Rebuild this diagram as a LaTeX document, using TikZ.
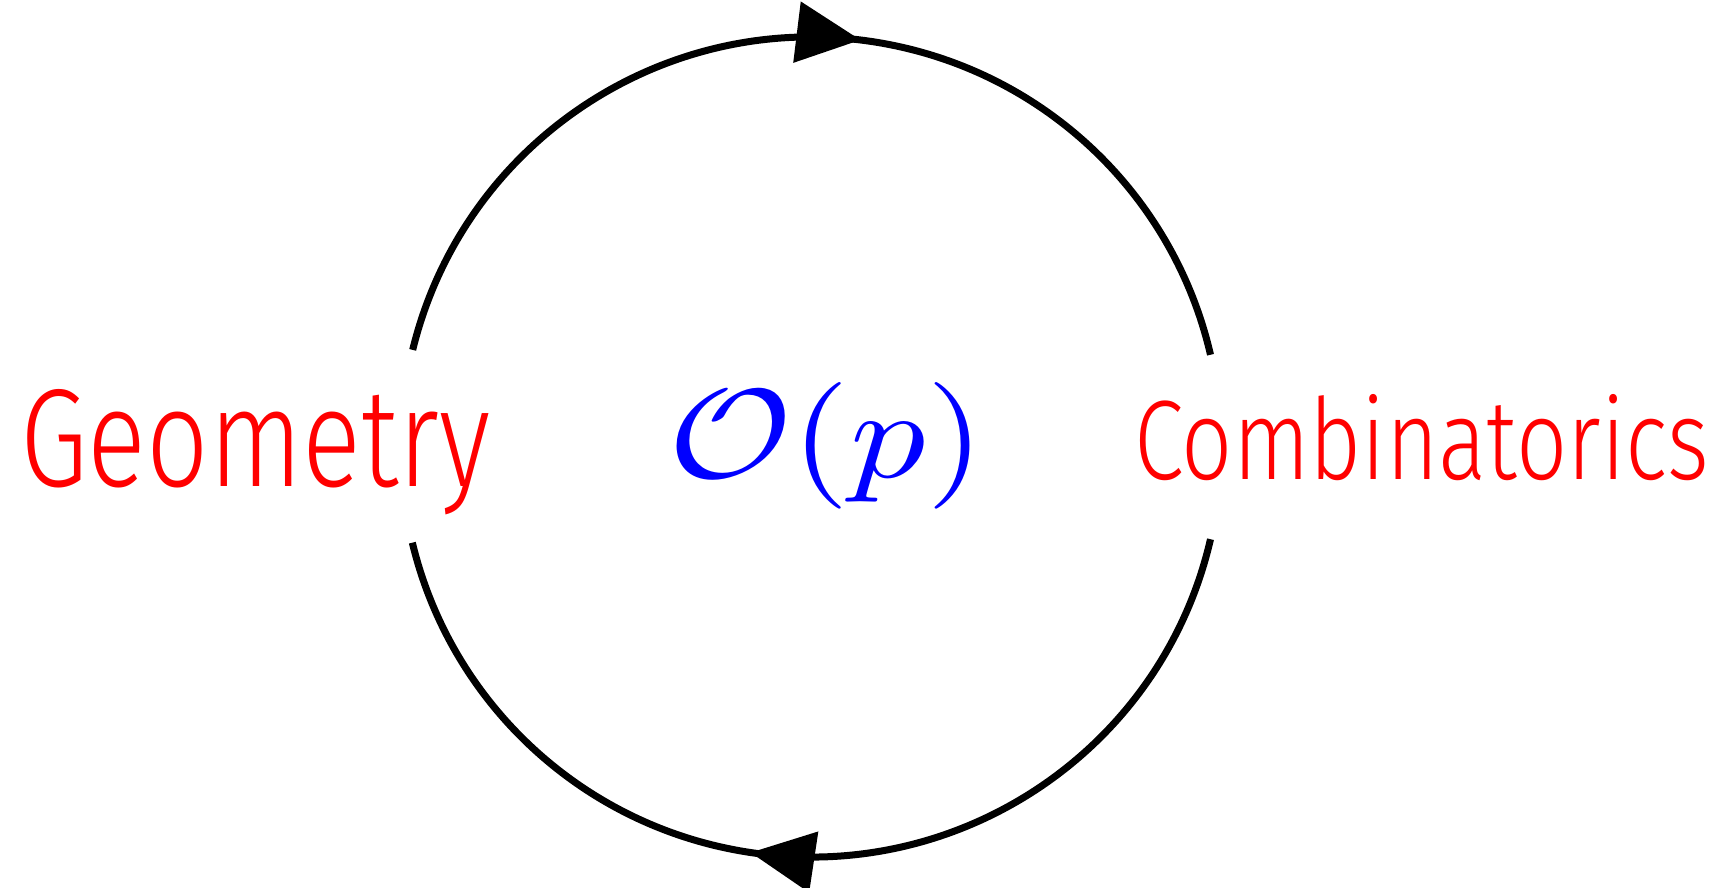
\documentclass[tikz,border=0pt]{standalone}
\usepackage{fontspec}
\setmainfont{Liberation Sans}
\newfontfamily\handfont{Fira Sans}[UprightFont=* Light]
\usepackage{graphicx}
\usetikzlibrary{arrows.meta,decorations.markings}
\begin{document}
\begin{tikzpicture}[x=1pt,y=1pt,
  arcline/.style={line width=7pt, draw=black},
  cwarrow/.style={postaction={decorate},
    decoration={markings, mark=at position #1 with {\arrow{Triangle[length=64pt,width=60pt]}}}},
  wordtext/.style={inner sep=0pt, anchor=base west, font=\handfont}]
\useasboundingbox (0,0) rectangle (1727,888);
\coordinate (c) at (811,441);
\draw[arcline, cwarrow=0.543] (c) ++(166.3:410) arc[start angle=166.3, end angle=13, radius=410];
\draw[arcline, cwarrow=0.557] (c) ++(-13:410) arc[start angle=-13, end angle=-166.5, radius=410];
\node[wordtext, text=red] (geo) at (20,401) {\resizebox{470pt}{97pt}{Geometry}};
\node[wordtext, text=red] (comb) at (1134,408) {\resizebox{575pt}{85pt}{Combinatorics}};
\node[wordtext, text=blue] (op) at (668,410) {\resizebox{316pt}{95pt}{$\mathcal{O}(p)$}};
\end{tikzpicture}
\end{document}
